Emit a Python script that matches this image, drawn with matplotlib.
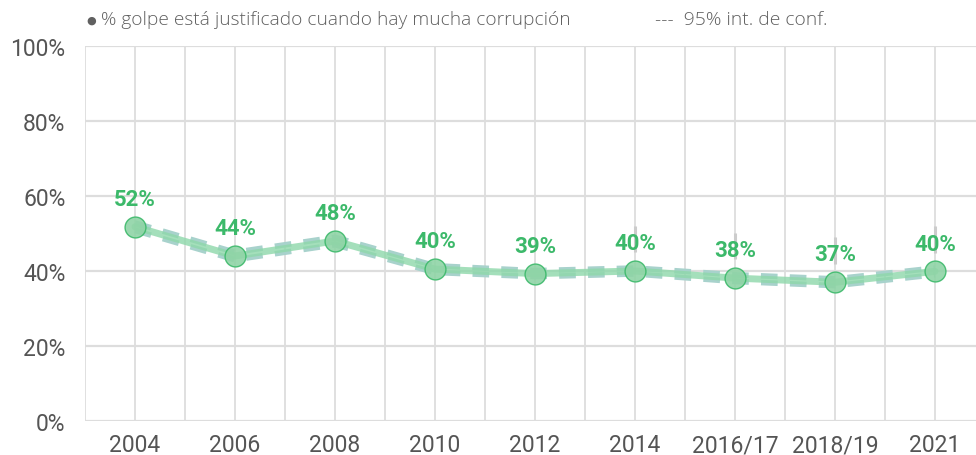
import matplotlib
matplotlib.use("Agg")
import matplotlib.pyplot as plt
import numpy as np

categories = ["2004", "2006", "2008", "2010", "2012", "2014", "2016/17", "2018/19", "2021"]
values = [51.8, 44.0, 48.0, 40.5, 39.3, 40.0, 38.1, 37.0, 39.9]
ci_low = [50.8, 43.0, 47.0, 39.6, 38.5, 39.2, 37.2, 36.1, 39.0]
ci_high = [52.8, 45.0, 49.0, 41.4, 40.1, 40.8, 39.0, 37.9, 40.8]
labels = ["52%", "44%", "48%", "40%", "39%", "40%", "38%", "37%", "40%"]
yticks = [0, 20, 40, 60, 80, 100]

plt.rcParams['font.family'] = ['Roboto', 'DejaVu Sans']

fig = plt.figure(figsize=(9.76, 4.56), dpi=100)
ax = fig.add_axes([85/976, 1-422/456, 1-85/976, (422-47)/456])

x = np.arange(len(categories))
ax.set_xlim(-0.5, 8.41)
ax.set_ylim(0, 100)

grid_c = "#dddddd"
for gx in np.arange(-0.5, 8.5, 0.5):
    ax.axvline(gx, color=grid_c, lw=1.3, zorder=0)
for gy in yticks:
    ax.axhline(gy, color=grid_c, lw=1.6, zorder=0)

for s in ax.spines.values():
    s.set_visible(False)

# faint error-bar-like segments behind labels
for i in range(5, len(categories)):
    ax.plot([x[i], x[i]], [values[i] + 5, values[i] + 12], color="#cccccc", lw=2.2, zorder=1, solid_capstyle="butt")

ax.plot(x, ci_low, color="#a8d2cc", lw=4, ls=(0, (3, 2.2)), zorder=2)
ax.plot(x, ci_high, color="#a8d2cc", lw=4, ls=(0, (3, 2.2)), zorder=2)
ax.plot(x, values, color="#8ed8aa", lw=5.0, alpha=0.8, zorder=3, solid_capstyle="round")
ax.plot(x, values, ls="none", marker="o", ms=15, mfc="#8fd4a6", mec="#3cb96a", mew=1.0, alpha=0.9, zorder=4)

for xi, v, lab in zip(x, values, labels):
    ax.annotate(lab, (xi, v), xytext=(0, 20), textcoords="offset points",
                ha="center", va="center", fontsize=16, fontweight="bold", color="#3cb96a", zorder=5)

ax.set_xticks(x)
ax.set_xticklabels(categories)
ax.set_yticks(yticks)
ax.set_yticklabels([f"{t}%" for t in yticks])
ax.tick_params(axis="both", length=0, labelsize=16.5, colors="#555555")
ax.tick_params(axis="x", pad=9)
ax.tick_params(axis="y", pad=14)

leg_font = ['Open Sans', 'DejaVu Sans']
fig.text(86/976, 1-21/456, "●", fontsize=8, color="#606060", va="center", ha="left",
         family=['DejaVu Sans'])
fig.text(101/976, 1-20/456, "% golpe está justificado cuando hay mucha corrupción",
         fontsize=13.8, color="#606060", va="center", ha="left", family=leg_font, fontweight="light")
fig.text(655/976, 1-20/456, "---  95% int. de conf.",
         fontsize=13.9, color="#606060", va="center", ha="left", family=leg_font, fontweight="light")

fig.savefig("out.png", dpi=100)
